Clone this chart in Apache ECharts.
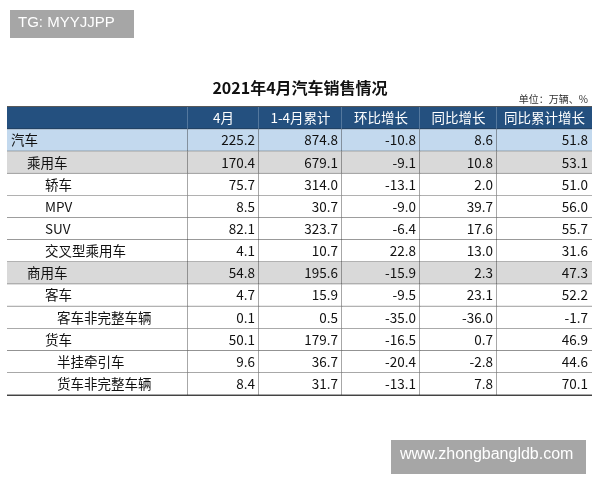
<!DOCTYPE html>
<html><head><meta charset="utf-8">
<script src="https://cdn.jsdelivr.net/npm/echarts@6/dist/echarts.min.js"></script>
<style>html,body{margin:0;padding:0;background:#fff}#c{width:600px;height:480px}</style>
</head><body><div id="c"></div>
<script>
const headers = ['', '4月', '1-4月累计', '环比增长', '同比增长', '同比累计增长'];
const rowNames = ['汽车','乘用车','轿车','MPV','SUV','交叉型乘用车','商用车','客车','客车非完整车辆','货车','半挂牵引车','货车非完整车辆'];
const rowLevels = [0,1,2,2,2,2,1,2,3,2,3,3];
const month = [225.2,170.4,75.7,8.5,82.1,4.1,54.8,4.7,0.1,50.1,9.6,8.4];
const cumulative = [874.8,679.1,314.0,30.7,323.7,10.7,195.6,15.9,0.5,179.7,36.7,31.7];
const momGrowth = [-10.8,-9.1,-13.1,-9.0,-6.4,22.8,-15.9,-9.5,-35.0,-16.5,-20.4,-13.1];
const yoyGrowth = [8.6,10.8,2.0,39.7,17.6,13.0,2.3,23.1,-36.0,0.7,-2.8,7.8];
const yoyCumGrowth = [51.8,53.1,51.0,56.0,55.7,31.6,47.3,52.2,-1.7,46.9,44.6,70.1];

const edges = [0,181,252,335,413,490,585];
const indent = [4,20,38,50];
const rowsY = ['h'].concat(rowNames.map((_, i) => 'r' + i));
const data = [];
headers.forEach((h, c) => data.push([c, 0, h]));
const cols = [month, cumulative, momGrowth, yoyGrowth, yoyCumGrowth];
rowNames.forEach((n, r) => {
  data.push([0, r + 1, n]);
  cols.forEach((arr, c) => data.push([c + 1, r + 1, arr[r].toFixed(1)]));
});
function fillFor(r) {
  if (r === 0) return '#24507f';
  if (r === 1) return '#c3d9ee';
  if (r === 2 || r === 7) return '#d9d9d9';
  return '#ffffff';
}
const chart = echarts.init(document.getElementById('c'));
chart.setOption({
  animation: false,
  title: { text: '2021年4月汽车销售情况', left: 'center', top: 75,
    textStyle: { fontSize: 16, fontWeight: 'bold', color: '#111', fontFamily: 'Noto Sans CJK SC' } },
  grid: { left: 7, right: 8, top: 107, bottom: 85 },
  xAxis: { type: 'value', min: 0, max: 585, show: false },
  yAxis: { type: 'category', data: rowsY, inverse: true, show: false },
  series: [{
    type: 'custom',
    data: data,
    encode: { x: 0, y: 1 },
    renderItem: function (params, api) {
      const c = api.value(0), r = api.value(1);
      const txt = data[params.dataIndex][2];
      const h = api.size([0, 1])[1];
      const p0 = api.coord([edges[c], r]);
      const p1 = api.coord([edges[c + 1], r]);
      const x0 = p0[0], x1 = p1[0], yc = p0[1], y0 = yc - h / 2;
      const header = r === 0;
      let tx, align;
      if (header) { tx = (x0 + x1) / 2; align = 'center'; }
      else if (c === 0) { tx = x0 + indent[rowLevels[r - 1]]; align = 'left'; }
      else { tx = x1 - 4; align = 'right'; }
      const lc = header ? '#9fb6cf' : '#222';
      const kids = [
        { type: 'rect', shape: { x: x0, y: y0, width: x1 - x0, height: h }, style: { fill: fillFor(r) } },
        { type: 'line', shape: { x1: x0, y1: y0 + h, x2: x1, y2: y0 + h }, style: { stroke: '#222', lineWidth: 0.8 } }
      ];
      if (c < 5) kids.push({ type: 'line', shape: { x1: x1, y1: y0, x2: x1, y2: y0 + h }, style: { stroke: lc, lineWidth: 0.8 } });
      kids.push({ type: 'text', style: { x: tx, y: yc, text: txt, align: align, verticalAlign: 'middle',
          fill: header ? '#fff' : '#111', fontSize: 13.5, fontFamily: 'Noto Sans CJK SC, Liberation Sans' } });
      return { type: 'group', children: kids };
    }
  }],
  graphic: [
    { type: 'line', shape: { x1: 7, y1: 107, x2: 592, y2: 107 }, style: { stroke: '#222', lineWidth: 1.5 } },
    { type: 'line', shape: { x1: 7, y1: 395, x2: 592, y2: 395 }, style: { stroke: '#222', lineWidth: 1.5 } },
    { type: 'text', right: 12, top: 94, style: { text: '单位：万辆、%', fontSize: 10, fill: '#333', fontFamily: 'Noto Sans CJK SC' } },
    { type: 'rect', shape: { x: 10, y: 10, width: 124, height: 28 }, style: { fill: '#a6a6a6' } },
    { type: 'text', left: 18, top: 15, style: { text: 'TG: MYYJJPP', fontSize: 15, fill: '#fff', fontFamily: 'Liberation Sans' } },
    { type: 'rect', shape: { x: 391, y: 440, width: 195, height: 34 }, style: { fill: '#a6a6a6' } },
    { type: 'text', left: 400, top: 447, style: { text: 'www.zhongbangldb.com', fontSize: 16, fill: '#fff', fontFamily: 'Liberation Sans' } }
  ]
});
</script></body></html>
